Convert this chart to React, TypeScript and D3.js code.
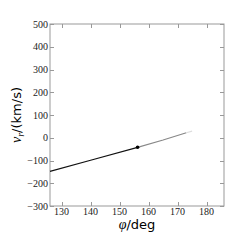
import React from "react";
import * as d3 from "d3";

const xTicks = [130, 140, 150, 160, 170, 180];
const yTicks = [500, 400, 300, 200, 100, 0, -100, -200, -300];
const trackBlackPhi = [126, 140, 156.2];
const trackBlackVr = [-148, -99, -42];
const trackGrayPhi = [156.2, 165, 173];
const trackGrayVr = [-42, -10, 22];
const trackFadePhi = [173, 175];
const trackFadeVr = [22, 29];
const pointPhi = [156.2];
const pointVr = [-42];

const W = 249, H = 249;
const L = 50, R = 224, T = 24, B = 206;

export default function App() {
  const x = d3.scaleLinear().domain([126, 186]).range([L, R]);
  const y = d3.scaleLinear().domain([-300, 500]).range([B, T]);
  const line = d3.line<[number, number]>().x(d => x(d[0])).y(d => y(d[1]));
  const zip = (a: number[], b: number[]) => a.map((v, i) => [v, b[i]] as [number, number]);
  const axisColor = "#999";
  const tl = 4;
  return (
    <div style={{ position: "fixed", left: 0, top: 0 }}>
      <svg width={W} height={H} style={{ display: "block", background: "#fff" }}>
        <rect x={L} y={T} width={R - L} height={B - T} fill="none" stroke={axisColor} strokeWidth={1} />
        {xTicks.map(t => (
          <g key={"x" + t}>
            <line x1={Math.round(x(t)) + 0.5} x2={Math.round(x(t)) + 0.5} y1={B} y2={B - tl} stroke={axisColor} />
            <line x1={Math.round(x(t)) + 0.5} x2={Math.round(x(t)) + 0.5} y1={T} y2={T + tl} stroke={axisColor} />
            <text x={x(t)} y={214.5} fontSize={10} fontFamily="'Liberation Serif', serif" textAnchor="middle" fill="#222">{t}</text>
          </g>
        ))}
        {yTicks.map(t => (
          <g key={"y" + t}>
            <line x1={L} x2={L + tl} y1={Math.round(y(t)) + 0.5} y2={Math.round(y(t)) + 0.5} stroke={axisColor} />
            <line x1={R} x2={R - tl} y1={Math.round(y(t)) + 0.5} y2={Math.round(y(t)) + 0.5} stroke={axisColor} />
            <text x={48} y={y(t) + 3.5} fontSize={10} fontFamily="'Liberation Serif', serif" textAnchor="end" fill="#222">{t < 0 ? "\u2212" + Math.abs(t) : t}</text>
          </g>
        ))}
        <path d={line(zip(trackBlackPhi, trackBlackVr)) || ""} fill="none" stroke="#111" strokeWidth={1.2} />
        <path d={line(zip(trackGrayPhi, trackGrayVr)) || ""} fill="none" stroke="#888" strokeWidth={1.2} />
        <path d={line(zip(trackFadePhi, trackFadeVr)) || ""} fill="none" stroke="#ddd" strokeWidth={1.2} />
        {pointPhi.map((p, i) => (
          <circle key={i} cx={x(p)} cy={y(pointVr[i])} r={1.8} fill="#000" />
        ))}
        <text x={(L + R) / 2} y={229} fontSize={13} textAnchor="middle" fill="#000" fontFamily="'DejaVu Sans', sans-serif">
          <tspan fontFamily="'Liberation Serif', serif" fontStyle="italic" fontSize={14}>φ</tspan>/deg
        </text>
        <text transform={`translate(21,${(T + B) / 2}) rotate(-90)`} fontSize={13} textAnchor="middle" fill="#000" fontFamily="'DejaVu Sans', sans-serif">
          <tspan fontFamily="'Liberation Serif', serif" fontStyle="italic" fontSize={14}>v</tspan>
          <tspan fontFamily="'Liberation Serif', serif" fontStyle="italic" fontSize={10} dy={3}>r</tspan>
          <tspan dy={-3}>/(km/s)</tspan>
        </text>
      </svg>
    </div>
  );
}
